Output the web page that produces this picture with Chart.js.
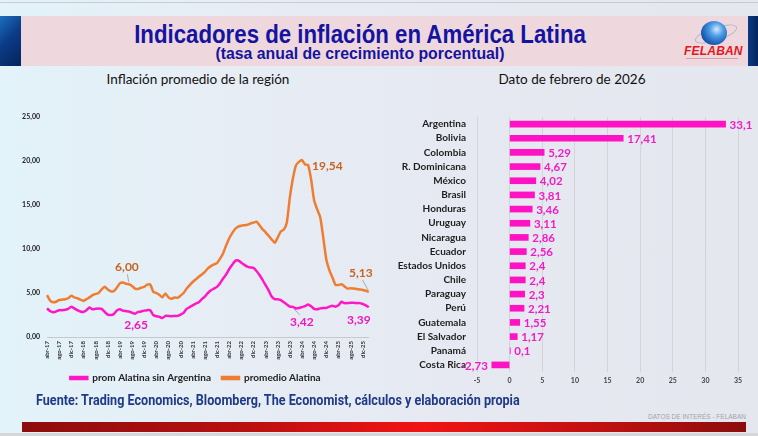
<!DOCTYPE html>
<html>
<head>
<meta charset="utf-8">
<script src="https://cdn.jsdelivr.net/npm/chart.js@4.4.1/dist/chart.umd.min.js"></script>
<style>
  body {
    margin: 0;
    width: 758px;
    height: 436px;
    overflow: hidden;
    position: relative;
    font-family: Lato, 'Open Sans', sans-serif;
    background: linear-gradient(90deg, #e2f3f9 0%, #e7edf5 30%, #e6e9f1 60%, #e5e7ef 100%);
  }
  .abs { position: absolute; }
  #topline { left: 0; top: 2px; width: 758px; height: 1px; background: #c9cbd0; }
  #band { left: 21px; top: 16px; width: 727px; height: 50px; background: #eed8de; }
  #leftStrip { left: 0; top: 16px; width: 21px; height: 50px; background: linear-gradient(135deg, #1d6fc0 0%, #0b3b86 45%, #06245c 100%); }
  #rightStrip { left: 748px; top: 16px; width: 10px; height: 50px; background: linear-gradient(90deg, #0b3b86, #06245c); }
  #title {
    left: 0; top: 19px; width: 720px; text-align: center;
    font-family: 'Liberation Sans', Arial, sans-serif;
    font-weight: bold; font-size: 25px; color: #1414a0; line-height: 30px;
    transform: scaleX(0.89); transform-origin: 360px center;
  }
  #subtitle {
    left: 0; top: 44px; width: 720px; text-align: center;
    font-family: 'Liberation Sans', Arial, sans-serif;
    font-weight: bold; font-size: 17px; color: #1414a0; line-height: 20px;
    transform: scaleX(0.93); transform-origin: 360px center;
  }
  #globe {
    left: 701px; top: 21px; width: 26px; height: 24px; border-radius: 50%;
    background: radial-gradient(circle at 60% 35%, #d8ecff 0%, #4f9fe6 30%, #1b5fb8 65%, #0b2f78 100%);
  }
  #ring {
    left: 694px; top: 27px; width: 42px; height: 12px; border-radius: 50%;
    border: 1px solid rgba(170, 180, 200, 0.9); transform: rotate(-18deg);
  }
  #felaban {
    left: 684px; top: 44px; width: 56px; text-align: center;
    font-family: 'Liberation Sans', Arial, sans-serif; font-style: italic; font-weight: bold;
    font-size: 12px; color: #e3161c; letter-spacing: 0.2px;
  }
  #felabanSub { left: 686px; top: 58px; width: 52px; height: 1px; background: #d9a0a8; }
  .section { top: 71px; font-size: 13.5px; color: #111; text-align: center; font-family: Lato, sans-serif; }
  #secLeft { left: 96px; width: 204px; }
  #secRight { left: 484px; width: 176px; }
  #lineWrap { left: 0; top: 100px; width: 380px; height: 295px; }
  #barWrap { left: 380px; top: 100px; width: 378px; height: 290px; }
  #source {
    left: 36px; top: 392px; white-space: nowrap;
    font-family: Roboto, 'Liberation Sans', sans-serif;
    font-weight: bold; font-size: 14px; color: #1f3a86;
    transform: scaleX(0.9); transform-origin: left center;
  }
  #datos {
    left: 640px; top: 413px; width: 106px; text-align: right;
    font-family: 'Liberation Sans', sans-serif; font-size: 6.5px; color: #a3a3a8;
  }
  #redbar {
    left: 22px; top: 422px; width: 724px; height: 10px;
    background: linear-gradient(90deg, #8c0d0d 0%, #b80f0f 30%, #f21414 55%, #c01010 80%, #8c0d0d 100%);
  }
  #bottomline { left: 0; top: 433px; width: 758px; height: 3px; background: #d5d6da; }
</style>
</head>
<body>
<div class="abs" id="topline"></div>
<div class="abs" id="band"></div>
<div class="abs" id="leftStrip"></div>
<div class="abs" id="rightStrip"></div>
<div class="abs" id="title">Indicadores de inflación en América Latina</div>
<div class="abs" id="subtitle">(tasa anual de crecimiento porcentual)</div>
<div class="abs" id="ring"></div>
<div class="abs" id="globe"></div>
<div class="abs" id="felaban">FELABAN</div>
<div class="abs" id="felabanSub"></div>

<div class="abs section" id="secLeft">Inflación promedio de la región</div>
<div class="abs section" id="secRight">Dato de febrero de 2026</div>

<div class="abs" id="lineWrap"><canvas id="lineChart" width="380" height="295"></canvas></div>
<div class="abs" id="barWrap"><canvas id="barChart" width="378" height="290"></canvas></div>

<div class="abs" id="source">Fuente: Trading Economics, Bloomberg, The Economist, cálculos y elaboración propia</div>
<div class="abs" id="datos">DATOS DE INTERÉS - FELABAN</div>
<div class="abs" id="redbar"></div>
<div class="abs" id="bottomline"></div>

<script>
// Meses (abr-17 a feb-26)
const months = [
    'abr-17', 'may-17', 'jun-17', 'jul-17', 'ago-17', 'sep-17', 'oct-17', 'nov-17', 'dic-17',
    'ene-18', 'feb-18', 'mar-18', 'abr-18', 'may-18', 'jun-18', 'jul-18', 'ago-18', 'sep-18', 'oct-18', 'nov-18', 'dic-18',
    'ene-19', 'feb-19', 'mar-19', 'abr-19', 'may-19', 'jun-19', 'jul-19', 'ago-19', 'sep-19', 'oct-19', 'nov-19', 'dic-19',
    'ene-20', 'feb-20', 'mar-20', 'abr-20', 'may-20', 'jun-20', 'jul-20', 'ago-20', 'sep-20', 'oct-20', 'nov-20', 'dic-20',
    'ene-21', 'feb-21', 'mar-21', 'abr-21', 'may-21', 'jun-21', 'jul-21', 'ago-21', 'sep-21', 'oct-21', 'nov-21', 'dic-21',
    'ene-22', 'feb-22', 'mar-22', 'abr-22', 'may-22', 'jun-22', 'jul-22', 'ago-22', 'sep-22', 'oct-22', 'nov-22', 'dic-22',
    'ene-23', 'feb-23', 'mar-23', 'abr-23', 'may-23', 'jun-23', 'jul-23', 'ago-23', 'sep-23', 'oct-23', 'nov-23', 'dic-23',
    'ene-24', 'feb-24', 'mar-24', 'abr-24', 'may-24', 'jun-24', 'jul-24', 'ago-24', 'sep-24', 'oct-24', 'nov-24', 'dic-24',
    'ene-25', 'feb-25', 'mar-25', 'abr-25', 'may-25', 'jun-25', 'jul-25', 'ago-25', 'sep-25', 'oct-25', 'nov-25', 'dic-25',
    'ene-26', 'feb-26'
];

// prom Alatina sin Argentina
const promSinArgentina = [
    3.26, 2.95, 2.8, 2.9, 3.05, 3.05, 3.1, 3.2, 3.45,
    3.25, 3.05, 2.9, 2.85, 3.05, 3.35, 3.15, 3.2, 3.25, 3.2, 2.85, 2.55,
    2.5, 2.6, 3.0, 3.15, 3.0, 2.95, 2.9, 2.75, 2.65, 2.85, 2.9, 3.0,
    3.05, 3.05, 2.5, 2.35, 2.3, 2.15, 2.4, 2.4, 2.35, 2.4, 2.4, 2.55,
    2.75, 3.2, 3.4, 3.6, 3.8, 3.95, 4.3, 4.6, 5.0, 5.3, 5.5, 5.7,
    6.1, 6.65, 7.1, 7.7, 8.2, 8.65, 8.7, 8.45, 8.2, 8.0, 7.9, 7.85,
    7.5, 7.05, 6.5, 5.9, 5.3, 4.6, 4.3, 4.3, 4.2, 3.95, 3.7, 3.45,
    3.42, 3.25, 3.3, 3.4, 3.5, 3.7, 3.5, 3.2, 3.15, 3.25, 3.3, 3.3,
    3.45, 3.55, 3.45, 3.6, 4.0, 3.85, 3.85, 3.9, 3.9, 3.85, 3.85, 3.75,
    3.6, 3.39
];

// promedio Alatina
const promAlatina = [
    4.77, 4.15, 3.95, 4.0, 4.2, 4.25, 4.3, 4.4, 4.7,
    4.5, 4.4, 4.25, 4.1, 4.3, 4.5, 4.75, 4.9, 5.0, 5.4, 5.7, 5.4,
    5.2, 5.2, 5.6, 6.1, 6.2, 6.05, 6.0, 5.8, 5.5, 5.45, 5.6, 5.7,
    5.95, 5.95, 5.15, 5.0, 4.8, 4.5, 4.95, 4.5, 4.35, 4.5, 4.45, 4.7,
    5.0, 5.5, 5.9, 6.25, 6.55, 6.85, 7.1, 7.4, 7.8, 8.05, 8.25, 8.4,
    8.9, 9.5, 10.4, 11.2, 11.8, 12.3, 12.55, 12.65, 12.7, 12.75, 12.9, 13.0,
    13.1, 12.7, 12.25, 11.9, 11.5, 11.1, 10.7, 11.3, 12.0, 12.2, 13.0, 15.9,
    18.0, 19.5, 19.9, 20.1, 19.6, 19.54, 17.9, 15.5, 14.5, 13.6, 11.3, 8.8,
    7.6, 6.8, 5.95, 5.9, 6.0, 5.75, 5.5, 5.55, 5.5, 5.45, 5.4, 5.35,
    5.25, 5.13
];

const yTicks = [0, 5, 10, 15, 20, 25];

// Dato de febrero de 2026
const countries = [
    'Argentina', 'Bolivia', 'Colombia', 'R. Dominicana', 'México', 'Brasil', 'Honduras', 'Uruguay', 'Nicaragua',
    'Ecuador', 'Estados Unidos', 'Chile', 'Paraguay', 'Perú', 'Guatemala', 'El Salvador', 'Panamá', 'Costa Rica'
];
const febValues = [33.1, 17.41, 5.29, 4.67, 4.02, 3.81, 3.46, 3.11, 2.86, 2.56, 2.4, 2.4, 2.3, 2.21, 1.55, 1.17, 0.1, -2.73];
const barTicks = [-5, 0, 5, 10, 15, 20, 25, 30, 35];

const PINK = '#ff17c6';
const ORANGE = '#ef7d31';
const fmt = (v) => String(v).replace('.', ',');

// point labels on the line chart (dataset, index, offset from point)
const pointLabels = [
    { ds: 1, i: 27, dx: -2, dy: -17, align: 'center', leader: true, color: '#c9631f' },
    { ds: 1, i: 86, dx: 4, dy: 1, align: 'left', leader: false, color: '#c9631f' },
    { ds: 1, i: 106, dx: -8, dy: -19, align: 'center', leader: true, color: '#c9631f' },
    { ds: 0, i: 29, dx: 1, dy: 11, align: 'center', leader: false, color: '#f215c0' },
    { ds: 0, i: 81, dx: 9, dy: 15, align: 'center', leader: true, color: '#f215c0' },
    { ds: 0, i: 106, dx: -10, dy: 13, align: 'center', leader: false, color: '#f215c0' }
];

const lineLabelPlugin = {
    id: 'lineLabels',
    afterDatasetsDraw(chart) {
        const ctx = chart.ctx;
        ctx.save();
        ctx.font = 'bold 12px Lato';
        ctx.textBaseline = 'middle';
        pointLabels.forEach(l => {
            const pt = chart.getDatasetMeta(l.ds).data[l.i];
            const value = chart.data.datasets[l.ds].data[l.i];
            const tx = pt.x + l.dx;
            const ty = pt.y + l.dy;
            if (l.leader) {
                ctx.strokeStyle = '#9a9a9a';
                ctx.lineWidth = 0.8;
                ctx.beginPath();
                const sy = l.dy < 0 ? ty + 7 : ty - 7;
                ctx.moveTo(tx + (pt.x - tx) * 0.2, sy);
                ctx.lineTo(pt.x - (pt.x - tx) * 0.1, pt.y + (l.dy < 0 ? -2 : 2));
                ctx.stroke();
            }
            ctx.fillStyle = l.color;
            ctx.textAlign = l.align;
            ctx.fillText(value.toFixed(2).replace('.', ','), tx, ty);
        });
        ctx.restore();
    }
};

const barLabelPlugin = {
    id: 'barLabels',
    afterDatasetsDraw(chart) {
        const ctx = chart.ctx;
        const meta = chart.getDatasetMeta(0);
        ctx.save();
        ctx.font = 'bold 11.5px Lato';
        ctx.fillStyle = '#f21cc4';
        ctx.textBaseline = 'middle';
        meta.data.forEach((bar, i) => {
            const v = chart.data.datasets[0].data[i];
            if (v >= 0) {
                ctx.textAlign = 'left';
                ctx.fillText(fmt(v), bar.x + 4, bar.y + 1);
            } else {
                ctx.textAlign = 'right';
                ctx.fillText(fmt(v), bar.x - 4, bar.y + 1);
            }
        });
        ctx.restore();
    }
};

Chart.defaults.font.family = 'Lato';
Chart.defaults.animation = false;

document.addEventListener('DOMContentLoaded', () => {
    initCharts();
});

function initCharts() {
    // Inflación promedio de la región
    new Chart(document.getElementById('lineChart'), {
        type: 'line',
        data: {
            labels: months,
            datasets: [{
                label: 'prom Alatina sin Argentina',
                data: promSinArgentina,
                borderColor: PINK,
                backgroundColor: PINK,
                borderWidth: 2.5,
                pointRadius: 0,
                tension: 0.2
            }, {
                label: 'promedio Alatina',
                data: promAlatina,
                borderColor: ORANGE,
                backgroundColor: ORANGE,
                borderWidth: 2.5,
                pointRadius: 0,
                tension: 0.2
            }]
        },
        options: {
            responsive: false,
            layout: { padding: { top: 17, right: 11, left: 22, bottom: 2 } },
            plugins: {
                legend: {
                    position: 'bottom',
                    labels: {
                        color: '#222',
                        boxWidth: 17,
                        boxHeight: 2,
                        padding: 11,
                        font: { size: 10, weight: 'bold' }
                    }
                },
                tooltip: { enabled: false }
            },
            scales: {
                x: {
                    grid: { display: false, drawTicks: false },
                    border: { color: '#c8c8c8' },
                    ticks: {
                        autoSkip: false,
                        maxRotation: 90,
                        minRotation: 90,
                        padding: 4,
                        color: '#333',
                        font: { size: 6, weight: 'bold' },
                        callback: function(value, index) {
                            return index % 4 === 0 ? months[index] : '';
                        }
                    },
                    afterFit: function(scale) { scale.height = 25; }
                },
                y: {
                    min: yTicks[0],
                    max: yTicks[yTicks.length - 1],
                    afterBuildTicks: function(scale) {
                        scale.ticks = yTicks.map(v => ({ value: v }));
                    },
                    grid: { display: false, drawTicks: false },
                    border: { display: false },
                    ticks: {
                        padding: 7,
                        color: '#222',
                        font: { size: 7, weight: 'bold' },
                        callback: function(value) {
                            return value.toFixed(2).replace('.', ',');
                        }
                    },
                    afterFit: function(scale) { scale.width = 25; }
                }
            }
        },
        plugins: [lineLabelPlugin]
    });

    // Dato de febrero de 2026
    new Chart(document.getElementById('barChart'), {
        type: 'bar',
        data: {
            labels: countries,
            datasets: [{
                data: febValues,
                backgroundColor: '#ff12c4',
                barThickness: 6
            }]
        },
        options: {
            responsive: false,
            indexAxis: 'y',
            layout: { padding: { top: 8, right: 20, left: 0, bottom: 0 } },
            plugins: {
                legend: { display: false },
                tooltip: { enabled: false }
            },
            scales: {
                x: {
                    min: barTicks[0],
                    max: barTicks[barTicks.length - 1],
                    afterBuildTicks: function(scale) {
                        scale.ticks = barTicks.map(v => ({ value: v }));
                    },
                    grid: { color: '#d3d4d8', drawTicks: false },
                    border: { display: false },
                    ticks: {
                        padding: 5,
                        color: '#444',
                        font: { size: 7, weight: 'bold' }
                    },
                    afterFit: function(scale) { scale.height = 18; }
                },
                y: {
                    grid: { display: false, drawTicks: false },
                    border: { display: false },
                    ticks: {
                        autoSkip: false,
                        padding: 11,
                        color: '#1e1e1e',
                        font: { size: 10, weight: 'bold' }
                    },
                    afterFit: function(scale) { scale.width = 97; }
                }
            }
        },
        plugins: [barLabelPlugin]
    });
}
</script>
</body>
</html>
